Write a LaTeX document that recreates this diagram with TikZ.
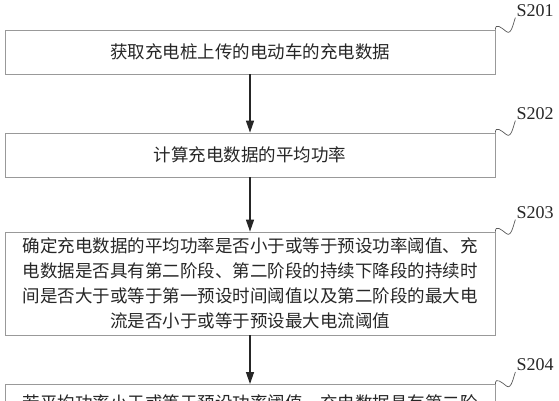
\documentclass[tikz,border=0pt]{standalone}
\usepackage{fontspec}
\setmainfont{Liberation Serif}
\newfontfamily\cjk{Noto Sans CJK SC}
\usetikzlibrary{arrows.meta}

\begin{document}
\begin{tikzpicture}[x=1pt,y=-1pt,
  stepbox/.style={draw=black!40,line width=0.8pt,minimum width=490pt,text width=470pt,
    align=center,inner sep=0pt,text=black!85,font=\cjk\fontsize{17.5}{25}\selectfont},
  steplbl/.style={inner sep=1pt,text=black!85,font=\fontsize{18}{18}\selectfont},
  flow/.style={-{Triangle[length=12pt,width=8pt]},line width=1.3pt,black!85},
  wiggle/.style={black!65,line width=0.7pt}]
  \useasboundingbox (0,0) rectangle (559,400);
  \clip (0,0) rectangle (559,400);
  % steps
  \node[stepbox,minimum height=44pt] (box1) at (250,52) {获取充电桩上传的电动车的充电数据};
  \node[stepbox,minimum height=44pt] (box2) at (250,155) {计算充电数据的平均功率};
  \node[stepbox,minimum height=103pt] (box3) at (250,283.5)
    {确定充电数据的平均功率是否小于或等于预设功率阈值、充\\
     电数据是否具有第二阶段、第二阶段的持续下降段的持续时\\
     间是否大于或等于第一预设时间阈值以及第二阶段的最大电\\
     流是否小于或等于预设最大电流阈值};
  \node[stepbox,minimum height=36pt,anchor=north] (box4) at (250,384)
    {若平均功率小于或等于预设功率阈值、充电数据具有第二阶};
  % step numbers
  \node[steplbl,anchor=south west] (lbl1) at ([shift={(20,-12)}]box1.north east) {S201};
  \node[steplbl,anchor=south west] (lbl2) at ([shift={(20,-12)}]box2.north east) {S202};
  \node[steplbl,anchor=south west] (lbl3) at ([shift={(20,-12)}]box3.north east) {S203};
  \node[steplbl,anchor=south west] (lbl4) at ([shift={(20,-12)}]box4.north east) {S204};
  \foreach \i in {1,...,4}{
    \coordinate (mid\i) at ([shift={(11,2)}]box\i.north east);
    \draw[wiggle] (box\i.north east) .. controls +(0,-7) and +(-5,-4) .. (mid\i)
      .. controls +(5,4) and +(-2,5) .. (lbl\i.south west);
  }
  % flow
  \draw[flow] (box1) -- (box2);
  \draw[flow] (box2) -- (box3);
  \draw[flow] (box3) -- (box4);
\end{tikzpicture}
\end{document}
